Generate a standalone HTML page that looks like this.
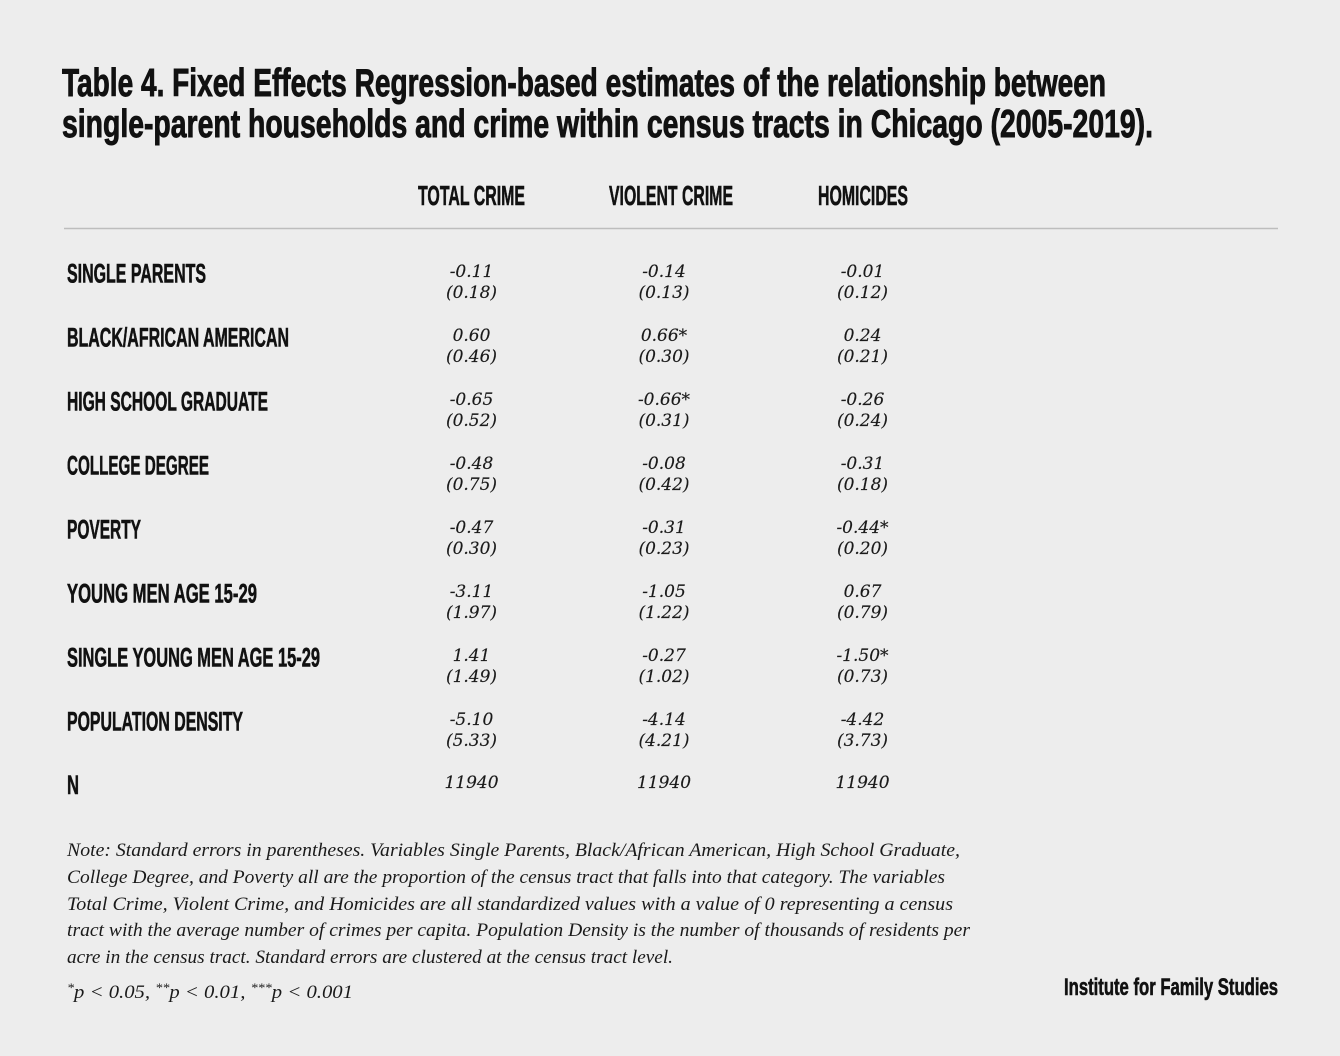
<!DOCTYPE html>
<html>
<head>
<meta charset="utf-8">
<style>
  html, body { margin:0; padding:0; background:#ededed; }
  svg { display:block; }
  .cond { font-family: "Liberation Sans Narrow", "Liberation Sans", sans-serif; font-weight:bold; fill:#111; stroke:#111; stroke-width:0.6px; }
  .val { font-family: "DejaVu Serif", "Liberation Serif", serif; font-style:italic; font-size:17px; fill:#1a1a1a; stroke:#1a1a1a; stroke-width:0.15px; }
  .note { font-family: "Liberation Serif", serif; font-style:italic; font-size:19px; fill:#1a1a1a; }
</style>
</head>
<body>
<svg width="1340" height="1056" viewBox="0 0 1340 1056" xmlns="http://www.w3.org/2000/svg">
  <rect x="0" y="0" width="1340" height="1056" fill="#ededed"/>

  <!-- Title -->
  <text class="cond" x="62" y="96" font-size="39" textLength="1044" lengthAdjust="spacingAndGlyphs" style="stroke-width:0.9px">Table 4. Fixed Effects Regression-based estimates of the relationship between</text>
  <text class="cond" x="62" y="137" font-size="39" textLength="1091" lengthAdjust="spacingAndGlyphs" style="stroke-width:0.9px">single-parent households and crime within census tracts in Chicago (2005-2019).</text>

  <!-- Headers -->
  <text class="cond" x="418" y="205" font-size="28" textLength="107" lengthAdjust="spacingAndGlyphs">TOTAL CRIME</text>
  <text class="cond" x="609" y="205" font-size="28" textLength="124" lengthAdjust="spacingAndGlyphs">VIOLENT CRIME</text>
  <text class="cond" x="818" y="205" font-size="28" textLength="90" lengthAdjust="spacingAndGlyphs">HOMICIDES</text>

  <line x1="64" y1="228.5" x2="1278" y2="228.5" stroke="#bdbdbd" stroke-width="1.5"/>

  <!-- Row labels -->
  <text class="cond" x="67" y="282.5" font-size="26.5" textLength="139" lengthAdjust="spacingAndGlyphs">SINGLE PARENTS</text>
  <text class="cond" x="67" y="346.5" font-size="26.5" textLength="222" lengthAdjust="spacingAndGlyphs">BLACK/AFRICAN AMERICAN</text>
  <text class="cond" x="67" y="410.5" font-size="26.5" textLength="201" lengthAdjust="spacingAndGlyphs">HIGH SCHOOL GRADUATE</text>
  <text class="cond" x="67" y="474.5" font-size="26.5" textLength="142" lengthAdjust="spacingAndGlyphs">COLLEGE DEGREE</text>
  <text class="cond" x="67" y="538.5" font-size="26.5" textLength="74" lengthAdjust="spacingAndGlyphs">POVERTY</text>
  <text class="cond" x="67" y="602.5" font-size="26.5" textLength="190" lengthAdjust="spacingAndGlyphs">YOUNG MEN AGE 15-29</text>
  <text class="cond" x="67" y="666.5" font-size="26.5" textLength="253" lengthAdjust="spacingAndGlyphs">SINGLE YOUNG MEN AGE 15-29</text>
  <text class="cond" x="67" y="730.5" font-size="26.5" textLength="176" lengthAdjust="spacingAndGlyphs">POPULATION DENSITY</text>
  <text class="cond" x="67" y="794" font-size="26.5" textLength="12" lengthAdjust="spacingAndGlyphs">N</text>

  <!-- Values: column 1 -->
  <g class="val" text-anchor="middle">
    <text x="471.5" y="277">-0.11</text><text x="471.5" y="298">(0.18)</text>
    <text x="471.5" y="341">0.60</text><text x="471.5" y="362">(0.46)</text>
    <text x="471.5" y="405">-0.65</text><text x="471.5" y="426">(0.52)</text>
    <text x="471.5" y="469">-0.48</text><text x="471.5" y="490">(0.75)</text>
    <text x="471.5" y="533">-0.47</text><text x="471.5" y="554">(0.30)</text>
    <text x="471.5" y="597">-3.11</text><text x="471.5" y="618">(1.97)</text>
    <text x="471.5" y="661">1.41</text><text x="471.5" y="682">(1.49)</text>
    <text x="471.5" y="725">-5.10</text><text x="471.5" y="746">(5.33)</text>
    <text x="471.5" y="788">11940</text>
  </g>

  <!-- Values: column 2 -->
  <g class="val" text-anchor="middle">
    <text x="664" y="277">-0.14</text><text x="664" y="298">(0.13)</text>
    <text x="664" y="341">0.66*</text><text x="664" y="362">(0.30)</text>
    <text x="664" y="405">-0.66*</text><text x="664" y="426">(0.31)</text>
    <text x="664" y="469">-0.08</text><text x="664" y="490">(0.42)</text>
    <text x="664" y="533">-0.31</text><text x="664" y="554">(0.23)</text>
    <text x="664" y="597">-1.05</text><text x="664" y="618">(1.22)</text>
    <text x="664" y="661">-0.27</text><text x="664" y="682">(1.02)</text>
    <text x="664" y="725">-4.14</text><text x="664" y="746">(4.21)</text>
    <text x="664" y="788">11940</text>
  </g>

  <!-- Values: column 3 -->
  <g class="val" text-anchor="middle">
    <text x="862.5" y="277">-0.01</text><text x="862.5" y="298">(0.12)</text>
    <text x="862.5" y="341">0.24</text><text x="862.5" y="362">(0.21)</text>
    <text x="862.5" y="405">-0.26</text><text x="862.5" y="426">(0.24)</text>
    <text x="862.5" y="469">-0.31</text><text x="862.5" y="490">(0.18)</text>
    <text x="862.5" y="533">-0.44*</text><text x="862.5" y="554">(0.20)</text>
    <text x="862.5" y="597">0.67</text><text x="862.5" y="618">(0.79)</text>
    <text x="862.5" y="661">-1.50*</text><text x="862.5" y="682">(0.73)</text>
    <text x="862.5" y="725">-4.42</text><text x="862.5" y="746">(3.73)</text>
    <text x="862.5" y="788">11940</text>
  </g>

  <!-- Notes -->
  <text class="note" x="67" y="856" textLength="893" lengthAdjust="spacingAndGlyphs">Note: Standard errors in parentheses. Variables Single Parents, Black/African American, High School Graduate,</text>
  <text class="note" x="67" y="883" textLength="878" lengthAdjust="spacingAndGlyphs">College Degree, and Poverty all are the proportion of the census tract that falls into that category. The variables</text>
  <text class="note" x="67" y="910" textLength="886" lengthAdjust="spacingAndGlyphs">Total Crime, Violent Crime, and Homicides are all standardized values with a value of 0 representing a census</text>
  <text class="note" x="67" y="936" textLength="903" lengthAdjust="spacingAndGlyphs">tract with the average number of crimes per capita. Population Density is the number of thousands of residents per</text>
  <text class="note" x="67" y="963" textLength="606" lengthAdjust="spacingAndGlyphs">acre in the census tract. Standard errors are clustered at the census tract level.</text>

  <text class="note" x="67" y="998" textLength="286" lengthAdjust="spacingAndGlyphs"><tspan font-size="13" dy="-6">*</tspan><tspan dy="6">p &lt; 0.05, </tspan><tspan font-size="13" dy="-6">**</tspan><tspan dy="6">p &lt; 0.01, </tspan><tspan font-size="13" dy="-6">***</tspan><tspan dy="6">p &lt; 0.001</tspan></text>

  <!-- Source -->
  <text class="cond" x="1064" y="995" font-size="24" textLength="214" lengthAdjust="spacingAndGlyphs">Institute for Family Studies</text>
</svg>
</body>
</html>
